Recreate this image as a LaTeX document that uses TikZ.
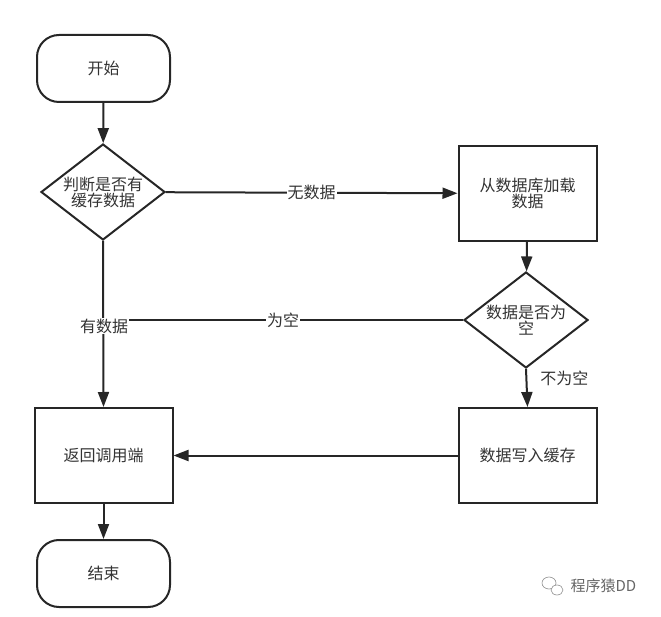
\documentclass[tikz,border=0pt]{standalone}
\usepackage{fontspec}
\setmainfont{Noto Sans CJK SC}
\usetikzlibrary{shapes.geometric,arrows.meta}
\begin{document}
\begin{tikzpicture}[x=1pt,y=-1pt,
  every node/.style={font=\fontsize{16}{19}\selectfont, text=black!80},
  term/.style={draw=black!85, line width=2pt, rounded corners=22pt, minimum width=133pt, minimum height=67pt, inner sep=0pt},
  proc/.style={draw=black!85, line width=2pt, minimum width=138pt, minimum height=95pt, inner sep=0pt, align=center},
  dec/.style={draw=black!85, line width=2pt, diamond, aspect=1.3, minimum width=124pt, minimum height=96pt, inner sep=-12pt, align=center},
  conn/.style={draw=black!85, line width=2pt},
  arr/.style={conn, -{Triangle[length=15pt,width=11pt]}},
  lbl/.style={fill=white, inner sep=1pt}]
\useasboundingbox (0,0) rectangle (661,617);
\node[term] (start) at (103.5,68.5) {开始};
\node[dec, text width=95pt] (d1) at (103,192) {判断是否有\\[-3pt]缓存数据};
\node[proc, text width=125pt] (load) at (527.5,193.5) {从数据库加载\\[-3pt]数据};
\node[dec, text width=95pt] (d2) at (526,320) {数据是否为\\[-3pt]空};
\node[proc] (write) at (527.5,455.5) {数据写入缓存};
\node[proc] (ret) at (103.5,455.5) {返回调用端};
\node[term] (end) at (103.5,573.5) {结束};
\coordinate (j) at (d1.south |- d2.west);
\draw[arr] (start) -- (d1);
\draw[arr] (d1) -- node[lbl] {无数据} (load);
\draw[arr] (load) -- (d2);
\draw[conn] (d2.west) -- node[lbl, pos=0.5] {为空} (j);
\draw[arr] (d1.south) -- (ret.north);
\node[lbl, anchor=center] (yes) at (104,326) {有数据};
\draw[arr] (d2.south) -- node[right, xshift=10pt, yshift=-6pt, pos=0.1] {不为空} (write.north);
\draw[arr] (write) -- (ret);
\draw[arr] (ret) -- (end);
% watermark
\node[draw=black!45, line width=0.6pt, ellipse, minimum width=14pt, minimum height=12pt, inner sep=0pt] (w1) at (549,583) {};
\node[draw=black!45, line width=0.6pt, ellipse, fill=white, minimum width=12pt, minimum height=10pt, inner sep=0pt] (w2) at (557,590) {};
\node[anchor=west, font=\fontsize{15}{17}\selectfont, text=black!60] (wm) at (567,586) {程序猿DD};
\end{tikzpicture}
\end{document}
